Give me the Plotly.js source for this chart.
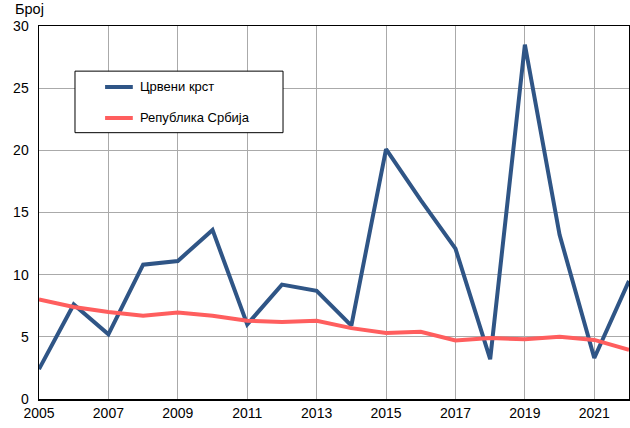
<!DOCTYPE html>
<html>
<head>
<meta charset="utf-8">
<script src="https://cdn.plot.ly/plotly-3.0.1.min.js"></script>
<style>html,body{margin:0;padding:0;background:#fff;}#chart{width:630px;height:428px;}</style>
</head>
<body>
<div id="chart"></div>
<script>
const years = [2005,2006,2007,2008,2009,2010,2011,2012,2013,2014,2015,2016,2017,2018,2019,2020,2021,2022];
const redCross = [2.4,7.6,5.2,10.8,11.1,13.6,6.0,9.2,8.7,5.9,20.1,16.0,12.1,3.2,28.5,13.2,3.3,9.5];
const serbia = [8.0,7.4,7.0,6.7,6.95,6.7,6.3,6.2,6.3,5.7,5.3,5.4,4.7,4.9,4.8,5.0,4.75,3.95];
const seriesNames = ['Црвени крст','Република Србија'];
const xTicks = [2005,2007,2009,2011,2013,2015,2017,2019,2021];
const yTitle = 'Број';

const blue = '#2F5586';
const red = '#FF5E5E';
const font = {family:'Liberation Sans, Arial, sans-serif', size:14, color:'#000'};

const traces = [
  {x:years, y:redCross, name:seriesNames[0], mode:'lines', line:{color:blue, width:4}, showlegend:false},
  {x:years, y:serbia, name:seriesNames[1], mode:'lines', line:{color:red, width:4}, showlegend:false}
];

const layout = {
  width:630, height:428,
  margin:{l:39, r:1, t:26, b:29},
  paper_bgcolor:'#fff', plot_bgcolor:'#fff',
  font:font,
  xaxis:{range:[2005,2022], tickvals:xTicks, ticktext:xTicks.map(String), showgrid:true, gridcolor:'#aaaaaa', gridwidth:1,
    showline:true, linecolor:'#000', linewidth:1.5, mirror:true, ticks:'', zeroline:false, tickfont:{size:14}, ticklabelstandoff:1},
  yaxis:{range:[0,30], dtick:5, showgrid:true, gridcolor:'#aaaaaa', gridwidth:1,
    showline:true, linecolor:'#000', linewidth:1.5, mirror:true, ticks:'', zeroline:false, tickfont:{size:14}, ticklabelstandoff:6},
  shapes:[
    {type:'rect', xref:'paper', yref:'paper', x0:0.061, x1:0.4136, y0:0.714, y1:0.879, line:{color:'#000', width:1}, fillcolor:'#fff', layer:'above'},
    {type:'line', xref:'paper', yref:'paper', x0:0.112, x1:0.159, y0:0.8365, y1:0.8365, line:{color:blue, width:4}},
    {type:'line', xref:'paper', yref:'paper', x0:0.112, x1:0.159, y0:0.7534, y1:0.7534, line:{color:red, width:4}}
  ],
  annotations:[
    {xref:'paper', yref:'paper', x:0.168, y:0.8365, xanchor:'left', yanchor:'middle', text:seriesNames[0], showarrow:false, font:{size:13}},
    {xref:'paper', yref:'paper', x:0.168, y:0.7534, xanchor:'left', yanchor:'middle', text:seriesNames[1], showarrow:false, font:{size:13}},
    {xref:'paper', yref:'paper', x:-0.044, y:1.046, xanchor:'left', yanchor:'middle', text:yTitle, showarrow:false, font:{size:14.5}}
  ]
};

Plotly.newPlot('chart', traces, layout, {displayModeBar:false, staticPlot:true});
</script>
</body>
</html>
